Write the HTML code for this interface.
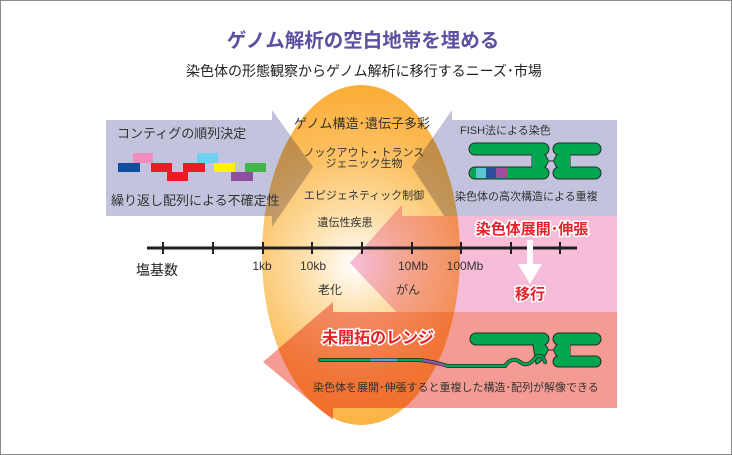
<!DOCTYPE html>
<html><head><meta charset="utf-8"><style>
html,body{margin:0;padding:0;background:#fff;}
svg{display:block;}
text{font-family:"Liberation Sans","Noto Sans CJK JP",sans-serif;}
</style></head><body>
<svg width="732" height="455" viewBox="0 0 732 455" xmlns="http://www.w3.org/2000/svg">
<defs>
<radialGradient id="og" cx="355" cy="265" r="190" gradientUnits="userSpaceOnUse">
<stop offset="0" stop-color="#ffffff"/>
<stop offset="0.25" stop-color="#fde2b0"/>
<stop offset="0.6" stop-color="#fcc060"/>
<stop offset="1" stop-color="#fbaa30"/>
</radialGradient>
</defs>
<rect x="0.5" y="0.5" width="731" height="454" fill="#fff" stroke="#8a8a8a"/>
<text x="363" y="47" font-size="19.5" font-weight="bold" fill="#5e4fa2" text-anchor="middle">ゲノム解析の空白地帯を埋める</text>
<text x="364" y="76" font-size="14" fill="#222" text-anchor="middle">染色体の形態観察からゲノム解析に移行するニーズ･市場</text>

<!-- oval -->
<ellipse cx="361" cy="255" rx="99" ry="170" fill="url(#og)"/>

<g style="mix-blend-mode:multiply">
<polygon points="106,120 272,120 272,110 313,167 272,227 272,216 106,216" fill="#c4c3de"/>
<polygon points="617,120 452,120 452,110 412,167 452,228 452,216 617,216" fill="#c4c3de"/>
<polygon points="617,216 402,216 402,205 350,263 402,318 402,312 617,312" fill="#f6bcd8"/>
<polygon points="617,312 333,312 333,302 263,362 333,420 333,408 617,408" fill="#f49c93"/>
</g>

<!-- left box content -->
<text x="117" y="138" font-size="13" fill="#333">コンティグの順列決定</text>
<rect x="133" y="153" width="20" height="10" fill="#f08cbe"/>
<rect x="197" y="153" width="21" height="10" fill="#6fcff5"/>
<rect x="118" y="163" width="22" height="9" fill="#0d4ea0"/>
<rect x="151" y="163" width="21" height="9" fill="#ec1c24"/>
<rect x="183" y="163" width="22" height="9" fill="#ec1c24"/>
<rect x="214" y="163" width="21" height="9" fill="#fff200"/>
<rect x="245" y="163" width="21" height="9" fill="#44b649"/>
<rect x="167" y="172" width="21" height="9" fill="#ec1c24"/>
<rect x="231" y="172" width="22" height="9" fill="#8e4f9f"/>
<text x="111" y="205" font-size="13" fill="#333">繰り返し配列による不確定性</text>

<!-- oval texts -->
<text x="362" y="128" font-size="13" fill="#333" text-anchor="middle">ゲノム構造･遺伝子多彩</text>
<text x="364" y="156" font-size="11" fill="#333" text-anchor="middle">ノックアウト・トランス</text>
<text x="364" y="167" font-size="11" fill="#333" text-anchor="middle">ジェニック生物</text>
<text x="364" y="199" font-size="11" fill="#333" text-anchor="middle">エピジェネティック制御</text>
<text x="345" y="226" font-size="11" fill="#333" text-anchor="middle">遺伝性疾患</text>

<!-- right box content -->
<text x="460" y="134" font-size="11" fill="#333">FISH法による染色</text>
<g fill="#00a650" stroke="#2a2a2a" stroke-width="1">
<path d="M532,149 C547,149 547,161 549,161 L553,161 C555,161 555,149 570,149 L570,173 C555,173 555,161 553,161 L549,161 C547,161 547,173 532,173 Z"/>
<rect x="469" y="143" width="80" height="12" rx="6"/>
<rect x="469" y="167" width="80" height="12" rx="6"/>
<rect x="553" y="143" width="48" height="12" rx="6"/>
<rect x="553" y="167" width="48" height="12" rx="6"/>
</g>
<path d="M532,150 C546,150 546,161 549,161 L553,161 C556,161 556,150 570,150 L570,172 C556,172 556,161 553,161 L549,161 C546,161 546,172 532,172 Z" fill="#00a650"/>
<rect x="476" y="168" width="10" height="10" fill="#5bc6d0"/>
<rect x="486" y="168" width="10" height="10" fill="#2e4fa0"/>
<rect x="496" y="168" width="11" height="10" fill="#9a4f9f"/>
<text x="455" y="200" font-size="11" fill="#333">染色体の高次構造による重複</text>

<!-- axis -->
<g stroke="#231f20">
<line x1="147" y1="248" x2="577" y2="248" stroke-width="3"/>
<g stroke-width="2">
<line x1="163" y1="242" x2="163" y2="254"/><line x1="213" y1="242" x2="213" y2="254"/>
<line x1="263" y1="242" x2="263" y2="254"/><line x1="312" y1="242" x2="312" y2="254"/>
<line x1="362" y1="242" x2="362" y2="254"/><line x1="412" y1="242" x2="412" y2="254"/>
<line x1="461" y1="242" x2="461" y2="254"/><line x1="511" y1="242" x2="511" y2="254"/>
<line x1="560" y1="242" x2="560" y2="254"/>
</g></g>
<text x="136" y="275" font-size="14" fill="#222">塩基数</text>
<g font-size="12" fill="#333" text-anchor="middle">
<text x="262" y="270">1kb</text><text x="313" y="270">10kb</text>
<text x="413" y="270">10Mb</text><text x="465" y="270">100Mb</text>
</g>
<text x="330" y="294" font-size="12" fill="#333" text-anchor="middle">老化</text>
<text x="408" y="294" font-size="12" fill="#333" text-anchor="middle">がん</text>

<!-- red labels -->
<g font-size="15" font-weight="bold" paint-order="stroke" stroke="#fff" stroke-width="3" fill="#e8202a">
<text x="532" y="234" text-anchor="middle">染色体展開･伸張</text>
<text x="530" y="299" text-anchor="middle">移行</text>
<text x="378" y="343" font-size="16" text-anchor="middle">未開拓のレンジ</text>
</g>
<polygon points="527,240 533,240 533,264 542,264 530,284 518,264 527,264" fill="#fff"/>

<!-- bottom chromosome -->
<g fill="#00a650" stroke="#2a2a2a" stroke-width="1">
<path d="M532,339 C547,339 547,350 549,350 L553,350 C555,350 555,339 570,339 L570,362 C555,362 555,350 553,350 L549,350 C547,350 544,362 536,364 Z"/>
<rect x="470" y="333" width="79" height="12" rx="6"/>
<rect x="553" y="333" width="48" height="12" rx="6"/>
<rect x="553" y="356" width="48" height="11" rx="5.5"/>
</g>
<path d="M533,340 C546,340 546,350 549,350 L553,350 C556,350 556,340 570,340 L570,361 C556,361 556,350 553,350 L549,350 C546,350 543,361 537,363 Z" fill="#00a650"/>
<path d="M320,360 H420 Q435,362 448,366 H505 Q512,356 520,362 Q528,368 535,358 Q542,352 545,362" fill="none" stroke="#2a2a2a" stroke-width="4" stroke-linecap="round"/>
<path d="M320,360 H420 Q435,362 448,366 H505 Q512,356 520,362 Q528,368 535,358 Q542,352 545,362" fill="none" stroke="#00a650" stroke-width="2.4" stroke-linecap="round"/>
<line x1="370" y1="360" x2="397" y2="360" stroke="#5b9bd5" stroke-width="2.4"/>
<path d="M423,360.5 Q434,362 445,365.5" fill="none" stroke="#8e4f9f" stroke-width="2.4"/>
<text x="313" y="391" font-size="11" fill="#333">染色体を展開･伸張すると重複した構造･配列が解像できる</text>
</svg>
</body></html>
